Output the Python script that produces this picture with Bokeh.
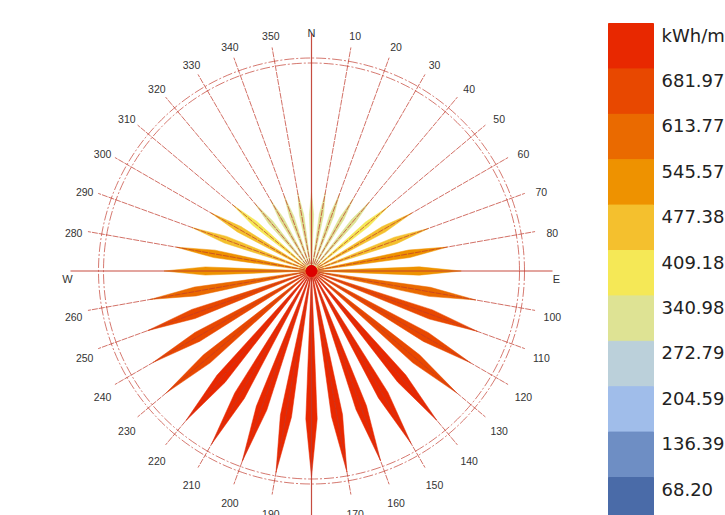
import math
import numpy as np
from bokeh.plotting import figure
from bokeh.models import Range1d, ColumnDataSource
from bokeh.core.properties import value
from bokeh.embed import file_html
from bokeh.resources import INLINE

# ---- data ----
directions = list(range(0, 360, 10))
radiation = [278, 282, 290, 298, 322, 358, 410, 440, 488, 530, 590, 625,
             650, 672, 690, 705, 715, 722, 728, 724, 718, 708, 692, 672,
             648, 618, 580, 522, 485, 450, 412, 365, 312, 292, 283, 280]
legend_bounds = [0, 68.20, 136.39, 204.59, 272.79, 340.98, 409.18,
                 477.38, 545.57, 613.77, 681.97, 750.17]
legend_labels = ["kWh/m²", "681.97", "613.77", "545.57", "477.38", "409.18",
                 "340.98", "272.79", "204.59", "136.39", "68.20"]
palette = ["#4a6ba8", "#6e8ec4", "#a0bdea", "#bbd0da", "#dee394", "#f5e856",
           "#f4c02e", "#ee9200", "#ea6a00", "#e84800", "#e82800"]  # low -> high
compass_names = {0: "N", 90: "E", 270: "W"}

# ---- geometry (pixels) ----
W, H = 725, 515
CX, CY = 311.0, 270.5          # rose centre in plot pixels
VMAX = legend_bounds[-1]
S = VMAX / 212.0                # data units per pixel

p = figure(width=W, height=H, output_backend="svg", toolbar_location=None,
           x_range=Range1d(-CX * S, (W - CX) * S),
           y_range=Range1d(-(H - CY) * S, CY * S),
           x_axis_type=None, y_axis_type=None, min_border=0,
           outline_line_color=None, background_fill_color="white",
           border_fill_color="white")
p.grid.visible = False

RED = "#c0392b"

# rings
for rr in (208, 213):
    p.circle(x=0, y=0, radius=rr * S, fill_color=None, line_color=RED,
             line_width=0.8, line_alpha=0.85, line_dash="10 2 2 2")

# petals
delta = math.radians(2.2)
xs, ys, cols = [], [], []
for d, v in zip(directions, radiation):
    th = math.radians(d)
    idx = min(int(np.searchsorted(legend_bounds, v, side="right")) - 1, len(palette) - 1)
    rm = 0.72 * v
    xs.append([0, rm * math.sin(th - delta), v * math.sin(th), rm * math.sin(th + delta)])
    ys.append([0, rm * math.cos(th - delta), v * math.cos(th), rm * math.cos(th + delta)])
    cols.append(palette[idx])
p.patches(xs=xs, ys=ys, fill_color=cols, line_color=cols, line_width=0.5)

# direction lines
seg = dict(x0=[], y0=[], x1=[], y1=[])
for d in directions:
    if d % 90 == 0:
        continue
    th = math.radians(d)
    seg["x0"].append(0); seg["y0"].append(0)
    seg["x1"].append(227 * S * math.sin(th)); seg["y1"].append(227 * S * math.cos(th))
p.segment(source=ColumnDataSource(seg), x0="x0", y0="y0", x1="x1", y1="y1",
          line_color=RED, line_width=0.8, line_alpha=0.9, line_dash="6 1")

# main axes
p.segment(x0=[0, -241 * S], y0=[238 * S, 0], x1=[0, 241 * S], y1=[-260 * S, 0],
          line_color=RED, line_width=1.2, line_alpha=0.9)

# centre blob
p.scatter(x=[0], y=[0], size=11, fill_color="#dd0000", line_color="#dd0000")

# compass degree labels
lab = dict(x=[], y=[], t=[])
for d in directions:
    if d % 90 == 0:
        continue
    th = math.radians(d)
    lab["x"].append(243 * S * math.sin(th) + 1.5 * S)
    lab["y"].append(243 * S * math.cos(th) - 4 * S)
    lab["t"].append(str(d))
p.text(source=ColumnDataSource(lab), x="x", y="y", text="t",
       text_font=value("Liberation Sans"), text_font_size="10.5px",
       text_color="#333333", text_align="center", text_baseline="middle")

# cardinal labels
p.text(x=[0, 245 * S, -244 * S], y=[238.5 * S, -7.5 * S, -7.5 * S],
       text=[compass_names[0], compass_names[90], compass_names[270]],
       text_font=value("Liberation Sans"), text_font_size="11px",
       text_color="#333333", text_align="center", text_baseline="middle")

# legend (colour scale boxes)
L_LEFT, L_RIGHT, L_TOP, L_H = 608, 653, 23, 45.4
n = len(legend_labels)
q = dict(left=[], right=[], top=[], bottom=[], c=[])
lt = dict(x=[], y=[], t=[])
for i in range(n):
    top_px = L_TOP + i * L_H
    q["left"].append((L_LEFT - CX) * S)
    q["right"].append((L_RIGHT - CX) * S)
    q["top"].append((CY - top_px) * S)
    q["bottom"].append((CY - top_px - L_H) * S)
    q["c"].append(palette[n - 1 - i])
    lt["x"].append((661 - CX) * S)
    lt["y"].append((CY - top_px - 11.5) * S)
    lt["t"].append(legend_labels[i])
p.quad(source=ColumnDataSource(q), left="left", right="right", top="top",
       bottom="bottom", fill_color="c", line_color="c")
p.text(source=ColumnDataSource(lt), x="x", y="y", text="t",
       text_font=value("DejaVu Sans"), text_font_size="18px",
       text_color="#222222", text_align="left", text_baseline="middle")

open("out.html", "w").write(file_html(p, INLINE))
